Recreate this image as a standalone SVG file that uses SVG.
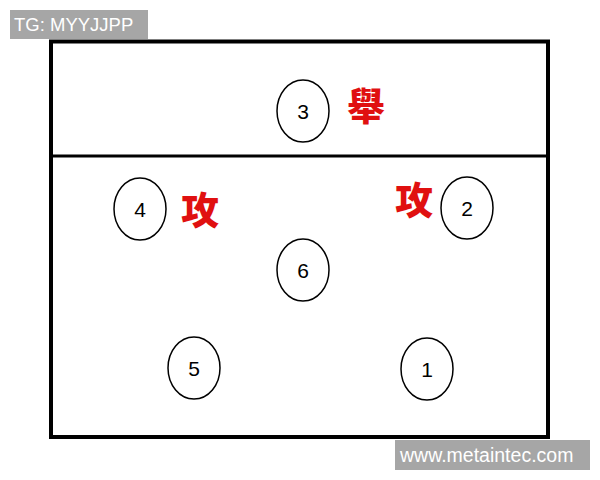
<svg xmlns="http://www.w3.org/2000/svg" width="600" height="480" viewBox="0 0 600 480">
<style>
.pos ellipse{fill:#fff;stroke:#000;stroke-width:1.5}
.num{font-family:"Liberation Sans",Arial,sans-serif;font-size:21px;fill:#000;text-anchor:middle;dominant-baseline:central}
.act{font-family:"Noto Sans CJK TC","Noto Sans CJK SC",sans-serif;font-weight:900;font-size:38px;fill:#e01010;text-anchor:middle;dominant-baseline:central}
.wm{font-family:"Liberation Sans",Arial,sans-serif;fill:#fff}
</style>
<rect width="600" height="480" fill="#fff"/>
<g id="court">
<rect x="51" y="41.5" width="497" height="395.5" fill="#fff" stroke="#000" stroke-width="4"/>
<line x1="51" y1="156" x2="548" y2="156" stroke="#000" stroke-width="3"/>
</g>
<g id="connectors"></g>
<g id="p3" class="pos"><ellipse cx="303" cy="111" rx="26" ry="31"/><text class="num" x="303" y="111">3</text></g>
<g id="p4" class="pos"><ellipse cx="140" cy="209" rx="26" ry="31"/><text class="num" x="140" y="209">4</text></g>
<g id="p2" class="pos"><ellipse cx="467" cy="208" rx="26" ry="31"/><text class="num" x="467" y="208">2</text></g>
<g id="p6" class="pos"><ellipse cx="303" cy="270" rx="26" ry="31"/><text class="num" x="303" y="270">6</text></g>
<g id="p5" class="pos"><ellipse cx="194" cy="368" rx="26" ry="31"/><text class="num" x="194" y="368">5</text></g>
<g id="p1" class="pos"><ellipse cx="427" cy="369" rx="26" ry="31"/><text class="num" x="427" y="369">1</text></g>
<g id="lift"><text class="act" x="366" y="103">舉</text></g>
<g id="atk4"><text class="act" x="200" y="207">攻</text></g>
<g id="atk2"><text class="act" x="414" y="197">攻</text></g>
<g id="wm1"><rect x="10" y="10" width="138" height="29" fill="#a6a6a6"/><text class="wm" x="14" y="31" font-size="18.5">TG: MYYJJPP</text></g>
<g id="wm2"><rect x="395" y="440" width="195" height="30" fill="#a6a6a6"/><text class="wm" x="400" y="462" font-size="19.5">www.metaintec.com</text></g>
</svg>
